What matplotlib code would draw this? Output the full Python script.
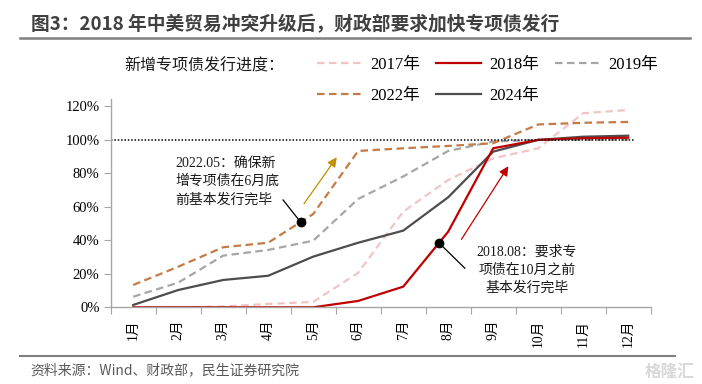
import matplotlib.pyplot as plt
from matplotlib.lines import Line2D

# 字体：数字用衬线体，中文回落到 Noto Sans CJK
SERIF = ['Liberation Serif', 'Noto Sans CJK SC']
SANS = ['Noto Sans CJK SC', 'DejaVu Sans']
plt.rcParams['font.family'] = SANS

months = ['1月', '2月', '3月', '4月', '5月', '6月', '7月', '8月', '9月', '10月', '11月', '12月']
y2017 = [0.0, 0.0, 0.005, 0.02, 0.032, 0.206, 0.57, 0.759, 0.888, 0.948, 1.157, 1.176]
y2018 = [0.0, 0.0, 0.0, 0.0, 0.0, 0.038, 0.123, 0.451, 0.948, 0.998, 1.008, 1.011]
y2019 = [0.063, 0.147, 0.308, 0.342, 0.397, 0.646, 0.78, 0.932, 0.988, 0.998, 0.998, 1.0]
y2022 = [0.133, 0.242, 0.358, 0.385, 0.556, 0.932, 0.948, 0.962, 0.978, 1.09, 1.10, 1.105]
y2024 = [0.014, 0.103, 0.163, 0.188, 0.302, 0.385, 0.457, 0.656, 0.928, 0.998, 1.017, 1.023]
yticks = [0, 0.2, 0.4, 0.6, 0.8, 1.0, 1.2]
ytick_labels = ['0%', '20%', '40%', '60%', '80%', '100%', '120%']

fig = plt.figure(figsize=(7.02, 3.84), dpi=100)
ax = fig.add_axes([110.7 / 702, 1 - 307.3 / 384, 540 / 702, 208 / 384])

x = list(range(len(months)))
dash = (0, (3.4, 2.0))
l17, = ax.plot(x, y2017, color='#F2C5C5', lw=1.6, linestyle=dash, label='2017年')
l19, = ax.plot(x, y2019, color='#A6A6A6', lw=1.6, linestyle=dash, label='2019年')
l22, = ax.plot(x, y2022, color='#C47B45', lw=1.6, linestyle=dash, label='2022年')
l24, = ax.plot(x, y2024, color='#4D4D4D', lw=1.6, label='2024年')
l18, = ax.plot(x, y2018, color='#C00000', lw=1.6, label='2018年')

ax.axhline(1.0, xmin=0, xmax=0.971, color='black', lw=1.1, linestyle=(0, (1, 1.2)))

ax.set_xlim(-0.5, 11.5)
ax.set_ylim(0, 1.24)
ax.set_yticks(yticks)
ax.set_yticklabels(ytick_labels, family=SERIF, fontsize=10.5)
ax.set_xticks([i - 0.5 for i in range(13)])
ax.set_xticklabels([])
ax.set_xticks(x, minor=True)
ax.set_xticklabels(months, minor=True, rotation=90, fontsize=9.8, family=SERIF)
ax.tick_params(axis='x', which='minor', length=0, pad=9)
ax.tick_params(axis='x', which='major', length=5, color='#A6A6A6', direction='out')
ax.tick_params(axis='y', length=5, color='#A6A6A6', direction='out', pad=3)
for s in ['top', 'right']:
    ax.spines[s].set_visible(False)
for s in ['left', 'bottom']:
    ax.spines[s].set_color('#A6A6A6')
    ax.spines[s].set_linewidth(1.0)

# 注释：2022.05
ax.plot(3.72, 0.508, 'o', color='black', ms=6, zorder=5)
ax.plot([3.72, 3.33], [0.508, 0.64], color='black', lw=0.9)
ax.annotate('', xy=(4.56, 0.908), xytext=(3.76, 0.604),
            arrowprops=dict(arrowstyle='-|>', color='#BF9000', lw=0.9, mutation_scale=14))
ax.text(0.93, 0.749, '2022.05：确保新\n增专项债在6月底\n前基本发行完毕', ha='left', va='center',
        fontsize=10, family=SERIF, linespacing=1.45, color='#1a1a1a')

# 注释：2018.08
ax.plot(6.795, 0.384, 'o', color='black', ms=6, zorder=5)
ax.plot([6.795, 7.37], [0.384, 0.233], color='black', lw=0.9)
ax.annotate('', xy=(8.37, 0.855), xytext=(7.26, 0.391),
            arrowprops=dict(arrowstyle='-|>', color='#C00000', lw=0.9, mutation_scale=14))
ax.text(8.745, 0.222, '2018.08：要求专\n项债在10月之前\n基本发行完毕', ha='center', va='center',
        fontsize=10, family=SERIF, linespacing=1.45, color='#1a1a1a')

# 图例
handles = [l17, l22, l18, l24, l19]
leg = ax.legend(handles, [h.get_label() for h in handles], ncol=3, frameon=False,
                loc='upper left', bbox_to_anchor=(317 / 702, 1 - 57 / 384),
                bbox_transform=fig.transFigure, prop={'family': SERIF, 'size': 12},
                handlelength=2.7, handletextpad=0.5, columnspacing=0.95, labelspacing=0.9,
                borderaxespad=0, borderpad=0)
fig.text(124 / 702, 1 - 66 / 384, '新增专项债发行进度：', fontsize=11.5, va='center', ha='left',
         color='#1a1a1a')

# 标题与来源
fig.text(31 / 702, 1 - 25 / 384, '图3：2018 年中美贸易冲突升级后，财政部要求加快专项债发行',
         fontsize=13.5, fontweight='bold', color='#404040', va='center', ha='left')
fig.add_artist(Line2D([20 / 702, 690 / 702], [1 - 37.5 / 384] * 2, color='#7F7F7F', lw=1.8))
fig.add_artist(Line2D([20 / 702, 675 / 702], [1 - 356 / 384] * 2, color='#7F7F7F', lw=1.5))
fig.text(30 / 702, 1 - 370 / 384, '资料来源：Wind、财政部，民生证券研究院', fontsize=10,
         color='#595959', va='center', ha='left')
fig.text(695 / 702, 1 - 372 / 384, '格隆汇', fontsize=12, fontweight='bold', color='#D9D9D9',
         va='center', ha='right')

fig.savefig('out.png', dpi=100)
